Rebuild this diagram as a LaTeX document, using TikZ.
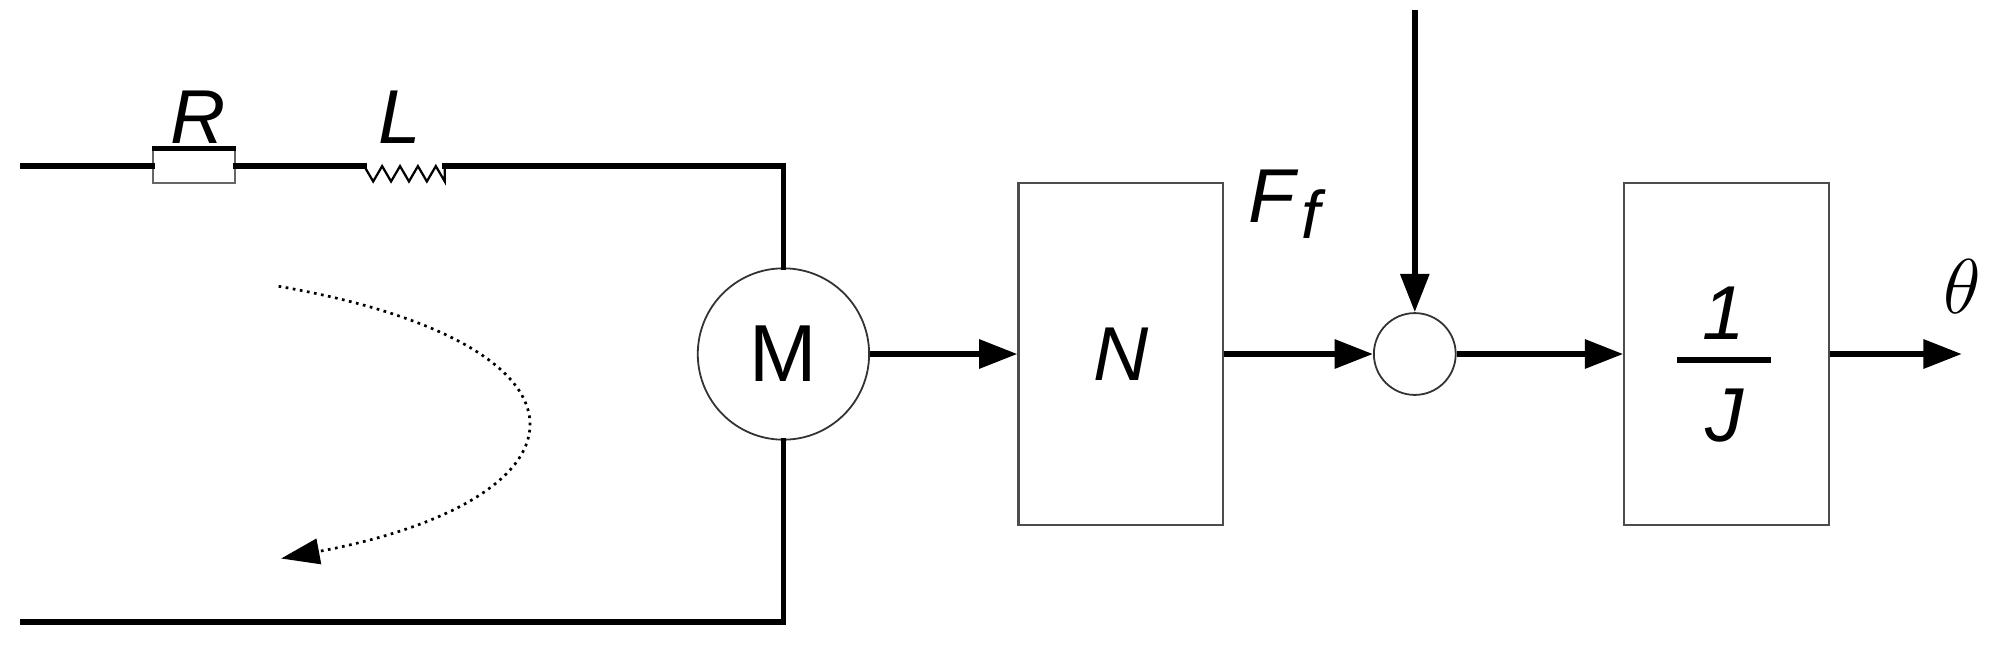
\documentclass[tikz,border=0pt]{standalone}
\usepackage{fontspec}
\setmainfont{Liberation Sans}
\usetikzlibrary{arrows.meta,decorations.pathmorphing}
\begin{document}
\begin{tikzpicture}[x=0.01cm,y=-0.01cm,
  wire/.style={line width=1.3pt,line cap=rect},
  conn/.style={line width=1.3pt,-{Triangle[length=0.3cm,width=0.22cm]}},
  blk/.style={draw=black!70,line width=0.5pt,minimum width=1.6cm,minimum height=2.67cm,inner sep=0},
  lbl/.style={font=\fontsize{17}{19}\selectfont\itshape,inner sep=0}]
\useasboundingbox (0,0) rectangle (1568,516);
% circuit
\node[draw=black!80,line width=0.4pt,circle,minimum size=1.34cm,inner sep=0,font=\fontsize{18}{20}\selectfont] (M) at (613,277) {M};
\node[draw=black!60,line width=0.5pt,minimum width=0.64cm,minimum height=0.26cm,inner sep=0,fill=white] (R) at (152,130) {};
\draw[line width=1.1pt] (R.north west) -- (R.north east);
\coordinate (a) at (18,130);
\coordinate (Li) at (285,130);
\coordinate (Lo) at (348,130);
\coordinate (c1) at (613,130);
\coordinate (c2) at (613,487);
\coordinate (b) at (18,487);
\draw[wire] (a) -- (R.west);
\draw[wire] (R.east) -- (Li);
\draw[line width=0.5pt] (Li) -- (292,142) -- (299,130) -- (306,142) -- (313,130) -- (320,142) -- (327,130) -- (334,142) -- (341,130) -- (348,142) -- (Lo);
\draw[wire] (Lo) -- (c1) -- (M.north);
\draw[wire] (M.south) -- (c2) -- (b);
\node[lbl] (Rl) at (155,92) {R};
\node[lbl] (Ll) at (313,92) {L};
\coordinate (cs) at (218,224);
\coordinate (ce) at (220,437);
\draw[densely dotted,line width=0.6pt,-{Triangle[length=0.3cm,width=0.2cm]}] (cs) .. controls (480,270) and (470,390) .. (ce);
% blocks
\node[blk] (N) at (877,277) {};
\node[lbl] at (N.center) {N};
\node[draw=black!80,line width=0.4pt,circle,minimum size=0.64cm,inner sep=0] (S) at (1107,277) {};
\node[blk] (J) at (1351,277) {};
\node[lbl] (one) at (1349,245) {1};
\node[lbl] (Jl) at (1349,325) {J};
\draw[line width=1.3pt] (1312,282) -- (1386,282);
\node[lbl] (Ff) at (1005,160) {F\raisebox{-0.4ex}{\fontsize{15}{17}\selectfont\kern0.1em f}};
\coordinate (top) at (1107,8);
\coordinate (out) at (1535,277);
\node[lbl] (th) at (1535,224) {$\theta$};
\draw[conn] (M.east) -- (N.west);
\draw[conn] (N.east) -- (S.west);
\draw[conn] (top) -- (S.north);
\draw[conn] (S.east) -- (J.west);
\draw[conn] (J.east) -- (out);
\end{tikzpicture}
\end{document}
